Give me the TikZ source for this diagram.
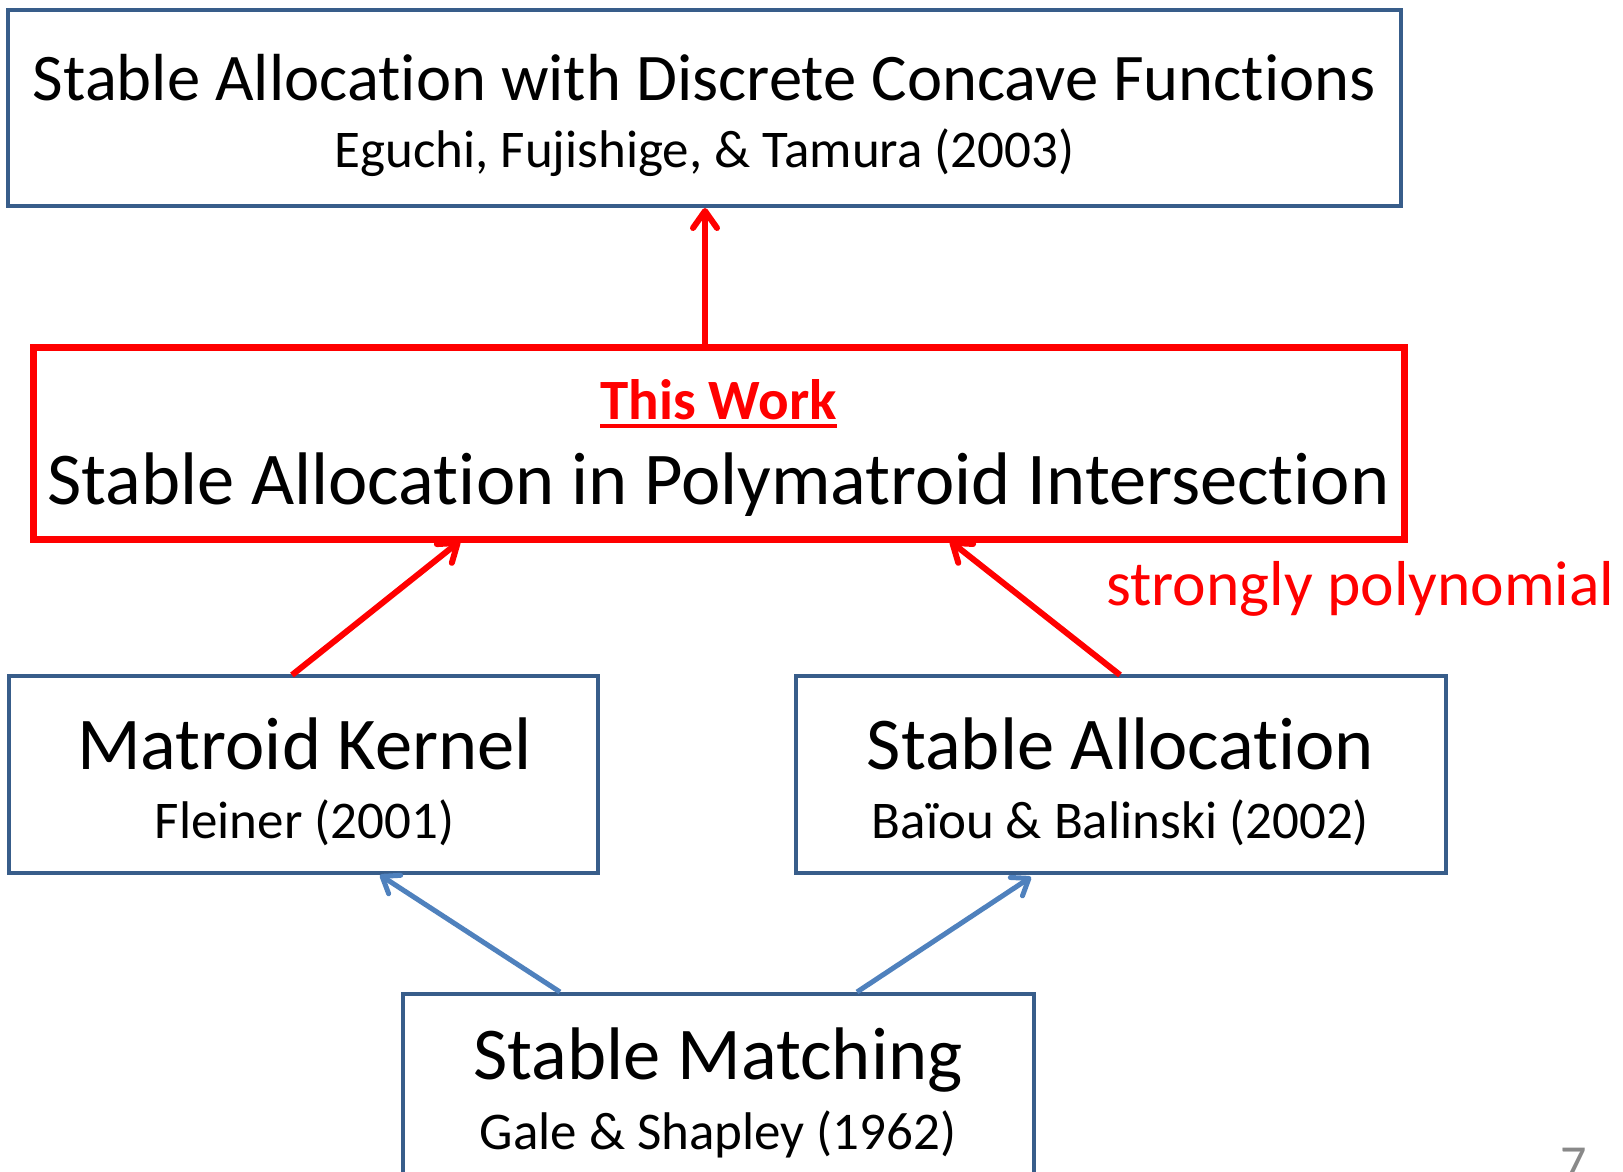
\documentclass[tikz,border=0pt]{standalone}
\usepackage{fontspec}
\setmainfont{Carlito}[Ligatures=NoCommon]
\usetikzlibrary{arrows.meta}
\definecolor{boxblue}{RGB}{56,93,138}
\definecolor{arrblue}{RGB}{79,129,189}
\definecolor{pnum}{RGB}{137,137,137}
\tikzset{
  bluebox/.style={draw=boxblue, line width=4pt, inner sep=0pt, fill=none},
  redbox/.style={draw=red, line width=7pt, inner sep=0pt},
  bigtxt/.style={inner sep=0pt, anchor=base, font=\fontsize{74.5}{80}\selectfont},
  toptxt/.style={inner sep=0pt, anchor=base, font=\fontsize{66.6}{70}\selectfont},
  subtxt/.style={inner sep=0pt, anchor=base, font=\fontsize{53}{58}\selectfont},
  redarr/.style={draw=red, line width=6pt, -{Straight Barb[round,length=17pt,width=24pt]}},
  bluearr/.style={draw=arrblue, line width=5pt, -{Straight Barb[round,length=15pt,width=22pt]}}
}
\begin{document}
\begin{tikzpicture}[x=1pt,y=-1pt]
\clip (0,0) rectangle (1623,1172);
\fill[white] (0,0) rectangle (1623,1172);
% boxes
\node[bluebox, minimum width=1393pt, minimum height=196pt] (top) at (704.5,108) {};
\node[redbox, minimum width=1371pt, minimum height=192pt] (work) at (718.5,443) {};
\node[bluebox, minimum width=589pt, minimum height=197pt] (mk) at (303.5,774.5) {};
\node[bluebox, minimum width=650pt, minimum height=197pt] (sa) at (1121,774.5) {};
\node[bluebox, minimum width=631pt, minimum height=200pt] (sm) at (718.5,1094) {};
% texts
\node[toptxt] (toptitle) at (704.5,100) {Stable Allocation with Discrete Concave Functions};
\node[subtxt] (topsub) at (704.5,167) {Eguchi, Fujishige, \& Tamura (2003)};
\node[inner sep=0pt, anchor=base, text=red, font=\fontsize{57}{60}\selectfont\bfseries] (tw) at (718.5,419) {This Work};
\draw[red, line width=4pt] ([yshift=-7pt]tw.base west) -- ([yshift=-7pt]tw.base east);
\node[bigtxt] (worktitle) at (718.5,504) {Stable Allocation in Polymatroid Intersection};
\node[inner sep=0pt, anchor=base, text=red, font=\fontsize{63.5}{66}\selectfont] (sp) at (1360.5,605) {strongly polynomial};
\node[bigtxt] (mktitle) at (304.5,769) {Matroid Kernel};
\node[subtxt] (mksub) at (304.5,838) {Fleiner (2001)};
\node[bigtxt] (satitle) at (1120.5,769) {Stable Allocation};
\node[subtxt] (sasub) at (1120.5,838) {Baïou \& Balinski (2002)};
\node[bigtxt] (smtitle) at (718,1079) {Stable Matching};
\node[subtxt] (smsub) at (718,1149) {Gale \& Shapley (1962)};
\node[inner sep=0pt, anchor=base, text=pnum, font=\fontsize{52}{56}\selectfont] (pagenum) at (1574,1181) {7};
% connector end points
\coordinate (w1) at (705,345);
\coordinate (t1) at (705,208);
\coordinate (m1) at (292,675);
\coordinate (w2) at (460,541);
\coordinate (s1) at (1120,675);
\coordinate (w3) at (950,541);
\coordinate (g1) at (560,992);
\coordinate (m2) at (380,875);
\coordinate (g2) at (857,992);
\coordinate (s2) at (1031,877);
% arrows
\draw[redarr] (w1) -- (t1);
\draw[redarr] (m1) -- (w2);
\draw[redarr] (s1) -- (w3);
\draw[bluearr] (g1) -- (m2);
\draw[bluearr] (g2) -- (s2);
\end{tikzpicture}
\end{document}
